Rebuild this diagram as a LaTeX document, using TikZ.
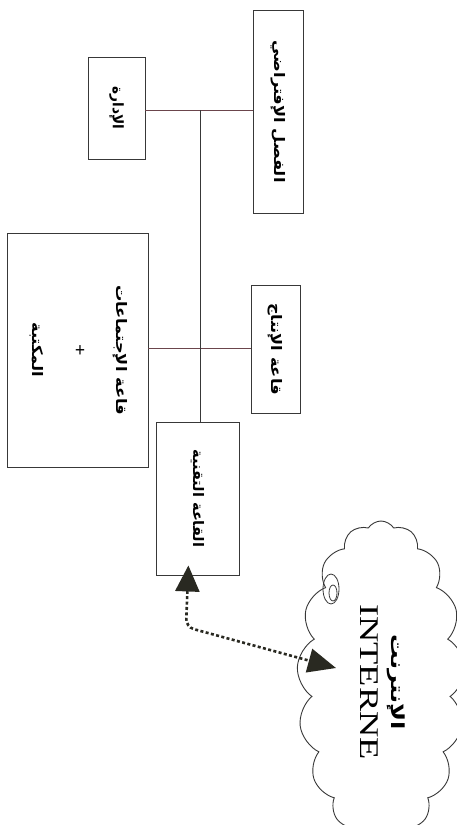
\documentclass[tikz,border=0pt]{standalone}
\usepackage{fontspec}
\usepackage{graphicx}
\setmainfont{Liberation Serif}
\newfontfamily\arabicfont[Script=Arabic]{DejaVu Sans}
\TeXXeTstate=1
\usetikzlibrary{shapes.symbols,arrows.meta,calc}
\definecolor{linec}{rgb}{0.22,0.22,0.22}
\definecolor{hlinec}{rgb}{0.42,0.27,0.30}
\definecolor{arrc}{rgb}{0.16,0.16,0.13}
\newcommand{\artxt}[1]{{\arabicfont\bfseries\beginR #1\endR}}
\newcommand{\vtext}[2][1.12]{\rotatebox{-90}{\scalebox{#1}[1]{#2}}}
\begin{document}
\begin{tikzpicture}[x=1pt,y=-1pt,
  room/.style={draw=linec, line width=0.9pt, inner sep=0pt, fill=white, font=\fontsize{14.5}{17}\selectfont},
  link/.style={draw=hlinec, line width=0.8pt},
  trunk/.style={draw=linec, line width=0.8pt},
  net/.style={draw=arrc, line width=2.6pt, dash pattern=on 3pt off 2.4pt,
    {Triangle[width=24pt,length=26pt]}-{Triangle[width=24pt,length=28pt]}}]
\useasboundingbox (0,0) rectangle (456,825);
\fill[white] (0,0) rectangle (456,825);
% rooms
\node[room, minimum width=50pt, minimum height=203pt] (virt) at (278,111.5) {\vtext{\artxt{الفصل الإفتراضي}}};
\node[room, minimum width=57pt, minimum height=102pt] (admin) at (116.5,108) {\vtext[0.95]{\artxt{الإدارة}}};
\node[room, minimum width=49pt, minimum height=128pt] (prod) at (275.5,349) {\vtext{\artxt{قاعة الإنتاج}}};
\node[room, minimum width=141pt, minimum height=234pt] (big) at (77.5,350) {\vtext{\begin{tabular}{@{}c@{}}\artxt{قاعة الإجتماعات}\\[25pt] {\fontsize{18}{18}\selectfont\textbf{+}}\\[25pt] \artxt{المكتبة}\end{tabular}}};
\node[room, minimum width=83pt, minimum height=153pt] (tech) at (197.5,498.5) {\vtext[1.0]{\artxt{القاعة التقنية}}};
% network lines
\coordinate (j1) at (200,110);
\coordinate (j2) at (200,348);
\draw[link] (admin.east |- j1) -- (virt.west |- j1);
\draw[link] (big.east |- j2) -- (prod.west |- j2);
\draw[trunk] (j1) -- (tech.north -| j1);
% cloud
\node[cloud, draw=linec, line width=0.9pt, cloud puffs=17, cloud puff arc=115, cloud ignores aspect,
  minimum width=168pt, minimum height=322pt, inner sep=0pt] (inet) at (381,682)
  {\rotatebox{-90}{\scalebox{1.35}[1]{\begin{tabular}{@{}c@{}}{\fontsize{18}{21}\selectfont\artxt{الإنترنت}}\\[10pt]{\fontsize{27}{30}\selectfont INTERNE}\end{tabular}}}};
\draw[linec, line width=0.8pt] (331,589) ellipse (8pt and 15pt);
\draw[linec, line width=0.8pt] (333,593) ellipse (4pt and 8pt);
% dotted link to internet
\coordinate (ax) at (188,0);
\coordinate (bend) at (186,627);
\coordinate (cin) at (336,668);
\draw[net, rounded corners=8pt, shorten <=-10pt] (tech.south -| ax) -- (bend) -- (cin);
\end{tikzpicture}
\end{document}
